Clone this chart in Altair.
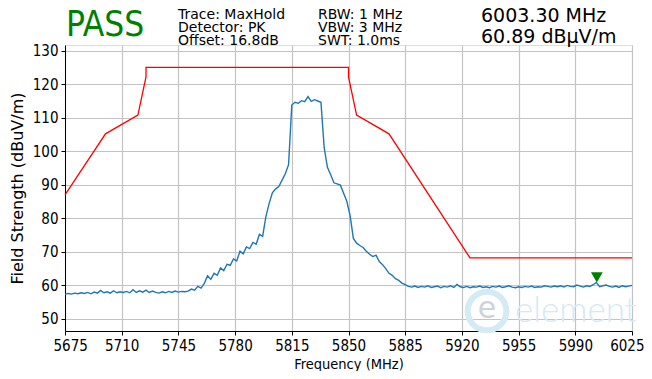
import altair as alt
import pandas as pd

# ---------------- data ----------------
sweep_start = 5675      # MHz, first sweep point
sweep_step = 2          # MHz between sweep points
trace_level = [
    # 5675 .. 5749
    57.3, 57.6, 57.4, 57.7, 57.5, 57.8, 57.6, 57.9, 57.5, 58.0,
    57.7, 58.5, 57.8, 58.1, 57.7, 58.4, 57.8, 58.1, 57.9, 58.2,
    57.8, 58.7, 57.9, 58.4, 58.0, 58.6, 57.9, 58.3, 57.9, 57.7,
    58.1, 57.8, 58.2, 57.9, 58.3, 58.0, 58.2, 58.1,
    # 5751 .. 5887
    58.3, 58.9, 58.6, 59.7, 59.2, 60.6, 62.9, 61.8, 63.6, 63.0,
    65.2, 64.4, 66.3, 66.0, 67.9, 67.3, 70.2, 69.4, 71.5, 71.0,
    72.8, 72.3, 75.2, 74.6, 80.5, 84.4, 87.6, 88.8, 89.5, 91.4,
    93.3, 96.0, 113.8, 114.6, 114.3, 115.1, 114.8, 116.3, 114.9, 115.4,
    115.0, 114.6, 101.0, 95.2, 93.0, 90.6, 90.3, 89.9, 87.5, 85.0,
    80.8, 74.0, 72.6, 71.9, 71.3, 70.2, 69.3, 68.6, 69.0, 67.1,
    66.2, 65.0, 63.6, 63.0, 62.0, 61.5, 60.7, 60.2, 59.7,
    # 5889 .. 6025
    59.5, 59.8, 59.4, 59.7, 59.5, 59.9, 59.4, 59.6, 59.8, 59.3,
    59.7, 59.5, 59.9, 59.4, 60.3, 59.6, 59.4, 59.7, 59.3, 59.6,
    59.5, 59.8, 59.4, 59.6, 59.3, 59.7, 59.5, 59.8, 59.4, 59.6,
    59.9, 59.5, 59.3, 59.6, 59.4, 59.7, 59.5, 59.8, 59.4, 59.6,
    59.5, 59.9, 59.7, 59.5, 59.8, 59.6, 59.9, 59.5, 60.0, 59.7,
    59.6, 60.1, 59.8, 59.5, 59.9, 59.7, 60.2, 60.9, 59.6, 59.9,
    60.1, 59.7, 59.5, 59.8, 59.4, 59.9, 59.6, 59.8, 60.0,
]
assert len(trace_level) == 176, len(trace_level)

mask_freq = [5675, 5700, 5720, 5725, 5725, 5850, 5850, 5855, 5875, 5925, 6025]
mask_level = [87.0, 105.2, 110.8, 122.2, 125.0, 125.0, 122.2, 110.8, 105.2, 68.2, 68.2]

marker_freq = [6003.30]
marker_level = [60.89]

x_ticks = [5675, 5710, 5745, 5780, 5815, 5850, 5885, 5920, 5955, 5990, 6025]
y_ticks = [50, 60, 70, 80, 90, 100, 110, 120, 130]

verdict = "PASS"
header_left = ["Trace: MaxHold", "Detector: PK", "Offset: 16.8dB"]
header_mid = ["RBW: 1 MHz", "VBW: 3 MHz", "SWT: 1.0ms"]
header_right = ["6003.30 MHz", "60.89 dBµV/m"]
watermark = "element"

# ---------------- tables ----------------
trace_df = pd.DataFrame({
    "freq": [sweep_start + sweep_step * i for i in range(len(trace_level))],
    "level": trace_level,
})
mask_df = pd.DataFrame({"freq": mask_freq, "level": mask_level,
                        "idx": list(range(len(mask_freq)))})
marker_df = pd.DataFrame({"freq": marker_freq, "level": marker_level})

CFONT = "DejaVu Sans Condensed, DejaVu Sans"
NFONT = "DejaVu Sans"
W, H = 567, 286

xscale = alt.Scale(domain=[5675, 6025], nice=False, zero=False)
yscale = alt.Scale(domain=[46.4, 131.7], nice=False, zero=False)

xaxis = alt.Axis(values=x_ticks, title="Frequency (MHz)", format="d",
                 grid=True, gridColor="#c4c4c4", gridWidth=1.2,
                 tickColor="black", tickSize=4, domainColor="black",
                 labelFont=CFONT, labelFontSize=15, labelColor="black",
                 labelPadding=3, labelFlush=True, labelFlushOffset=12,
                 labelOverlap=False,
                 titleFont=CFONT, titleFontSize=14.5, titleFontWeight="normal",
                 titleColor="black", titlePadding=4)
yaxis = alt.Axis(values=y_ticks, title="Field Strength (dBuV/m)", format="d",
                 grid=True, gridColor="#c4c4c4", gridWidth=1.2,
                 tickColor="black", tickSize=4, domainColor="black",
                 labelFont=CFONT, labelFontSize=15, labelColor="black",
                 labelPadding=3, labelFlush=False, labelOverlap=False,
                 labelBound=False,
                 titleFont=NFONT, titleFontSize=16, titleFontWeight="normal",
                 titleColor="black", titlePadding=7)

X = alt.X("freq:Q", scale=xscale, axis=xaxis)
Y = alt.Y("level:Q", scale=yscale, axis=yaxis)

trace = alt.Chart(trace_df).mark_line(color="#1f77b4", strokeWidth=1.4).encode(
    x=X, y=Y)

mask = alt.Chart(mask_df).mark_line(color="#ff0000", strokeWidth=1.3).encode(
    x=X, y=Y, order="idx:Q")

marker = alt.Chart(marker_df).mark_point(
    shape="triangle-down", filled=True, color="#008000", opacity=1,
    size=140, yOffset=-5).encode(x=X, y=Y)


def label(txt, px, py, size, color="black", font=NFONT, align="left",
          weight="normal"):
    return alt.Chart(pd.DataFrame({"t": [txt]})).mark_text(
        align=align, baseline="middle", font=font, fontSize=size,
        fontWeight=weight, color=color).encode(
        x=alt.value(px), y=alt.value(py), text="t:N")


texts = [label(verdict, 1, -20.5, 35, color="#008000", font=CFONT)]
for i, t in enumerate(header_left):
    texts.append(label(t, 113, -30 + 13 * i, 14))
for i, t in enumerate(header_mid):
    texts.append(label(t, 253, -30 + 13 * i, 14))
for i, t in enumerate(header_right):
    texts.append(label(t, 416, -29.5 + 21 * i, 19))

# faint watermark
ring = alt.Chart(pd.DataFrame({"t": [watermark]})).mark_point(
    shape="circle", filled=False, stroke="#d4ebf6", strokeWidth=6,
    size=1500, opacity=1).encode(x=alt.value(422), y=alt.value(266))
ring_e = label("e", 422, 264, 30, color="#cdd3d8", align="center")
wm_text = label(watermark, 450, 266, 35, color="#d4ebf6", font="Lato",
                weight=300)

chart = alt.layer(ring, ring_e, wm_text, mask, trace, marker, *texts).properties(
    width=W, height=H,
    autosize=alt.AutoSizeParams(type="none"),
    padding={"left": 57, "top": 37, "right": 12, "bottom": 40},
).configure_view(stroke="black", strokeWidth=1).configure(background="white")

chart.save("out.html", embed_options={"renderer": "svg", "actions": False})
